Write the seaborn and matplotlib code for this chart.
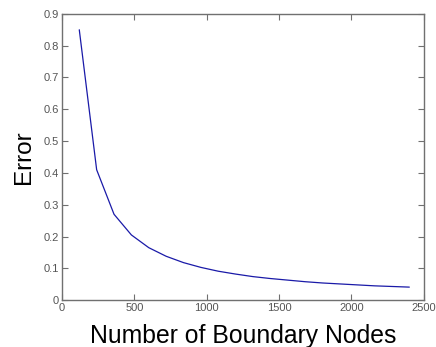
import matplotlib
matplotlib.use("Agg")
import matplotlib.pyplot as plt
import seaborn as sns
import pandas as pd

nodes = [120, 240, 360, 480, 600, 720, 840, 960, 1080, 1200,
         1320, 1440, 1560, 1680, 1800, 1920, 2040, 2160, 2280, 2400]
error = [0.85, 0.41, 0.27, 0.205, 0.165, 0.138, 0.118, 0.103, 0.091, 0.082,
         0.074, 0.068, 0.063, 0.058, 0.054, 0.051, 0.048, 0.045, 0.043, 0.041]
xticks = [0, 500, 1000, 1500, 2000, 2500]
yticks = [0, 0.1, 0.2, 0.3, 0.4, 0.5, 0.6, 0.7, 0.8, 0.9]

sns.set_style("white")
plt.rcParams['font.family'] = ['Liberation Sans', 'DejaVu Sans']

df = pd.DataFrame({"nodes": nodes, "error": error})
fig = plt.figure(figsize=(4.36, 3.47), dpi=100)
ax = fig.add_axes([0.142, 0.135, 0.830, 0.825])
sns.lineplot(data=df, x="nodes", y="error", ax=ax, color="#1a1aa8", linewidth=0.9)
ax.set_xlim(0, 2500)
ax.set_ylim(0, 0.9)
ax.set_xticks(xticks)
ax.set_yticks(yticks)
ax.set_xticklabels([str(t) for t in xticks])
ax.set_yticklabels(["0" if t == 0 else f"{t:.1f}" for t in yticks])
for s in ax.spines.values():
    s.set_color("#707070")
    s.set_linewidth(1.0)
    s.set_visible(True)
ax.tick_params(direction="in", length=4, width=0.8, color="#707070",
               labelsize=8, labelcolor="#555555", top=True, right=True,
               bottom=True, left=True, pad=2)
ax.set_xlabel("Number of Boundary Nodes", fontsize=17.8, color="black", labelpad=8)
ax.set_ylabel("Error", fontsize=17.5, color="black", labelpad=6)
fig.savefig("out.png", dpi=100)
